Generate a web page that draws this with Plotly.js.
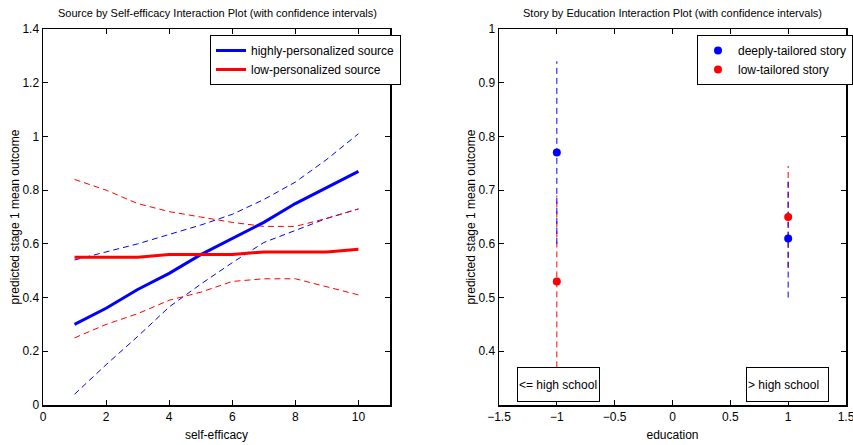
<!DOCTYPE html>
<html>
<head>
<meta charset="utf-8">
<script src="https://cdn.plot.ly/plotly-3.0.1.min.js"></script>
<style>html,body{margin:0;padding:0;background:#fff;}#chart{width:853px;height:445px;}</style>
</head>
<body>
<div id="chart"></div>
<script>
// ---- Left panel data: Source by Self-efficacy ----
const selfEfficacy = [1, 2, 3, 4, 5, 6, 7, 8, 9, 10];
const highMean  = [0.30, 0.36, 0.43, 0.49, 0.56, 0.62, 0.68, 0.75, 0.81, 0.87];
const highUpper = [0.54, 0.57, 0.60, 0.635, 0.67, 0.71, 0.765, 0.83, 0.915, 1.01];
const highLower = [0.04, 0.15, 0.255, 0.365, 0.45, 0.53, 0.605, 0.65, 0.695, 0.73];
const lowMean   = [0.55, 0.55, 0.55, 0.56, 0.56, 0.56, 0.57, 0.57, 0.57, 0.58];
const lowUpper  = [0.84, 0.80, 0.75, 0.72, 0.70, 0.68, 0.665, 0.665, 0.695, 0.73];
const lowLower  = [0.25, 0.30, 0.34, 0.39, 0.42, 0.46, 0.47, 0.47, 0.44, 0.41];

// ---- Right panel data: Story by Education ----
const education = [-1, 1];
const deepMean = [0.77, 0.61];
const deepLo   = [0.60, 0.50];
const deepHi   = [0.94, 0.72];
const lowStoryMean = [0.53, 0.65];
const lowStoryLo   = [0.37, 0.555];
const lowStoryHi   = [0.69, 0.745];

const leftXTicks = [0, 2, 4, 6, 8, 10];
const leftYTicks = [0, 0.2, 0.4, 0.6, 0.8, 1, 1.2, 1.4];
const rightXTicks = [-1.5, -1, -0.5, 0, 0.5, 1, 1.5];
const rightYTicks = [0.4, 0.5, 0.6, 0.7, 0.8, 0.9, 1];

const BLUE = '#0000ff', RED = '#ff0000';
const FONT = 'Liberation Sans, Arial, Helvetica, sans-serif';
const DASH = '6px,4px';

const traces = [];
// left CI dashed lines
traces.push({x: selfEfficacy, y: highUpper, mode: 'lines', line: {color: BLUE, width: 1, dash: DASH}, showlegend: false, xaxis: 'x', yaxis: 'y'});
traces.push({x: selfEfficacy, y: highLower, mode: 'lines', line: {color: BLUE, width: 1, dash: DASH}, showlegend: false, xaxis: 'x', yaxis: 'y'});
traces.push({x: selfEfficacy, y: lowUpper, mode: 'lines', line: {color: RED, width: 1, dash: DASH}, showlegend: false, xaxis: 'x', yaxis: 'y'});
traces.push({x: selfEfficacy, y: lowLower, mode: 'lines', line: {color: RED, width: 1, dash: DASH}, showlegend: false, xaxis: 'x', yaxis: 'y'});
traces.push({x: selfEfficacy, y: highMean, mode: 'lines', name: 'highly-personalized source', line: {color: BLUE, width: 3}, xaxis: 'x', yaxis: 'y', legend: 'legend'});
traces.push({x: selfEfficacy, y: lowMean, mode: 'lines', name: 'low-personalized source', line: {color: RED, width: 3}, xaxis: 'x', yaxis: 'y', legend: 'legend'});

// right CI vertical dashed lines
for (let i = 0; i < education.length; i++) {
  traces.push({x: [education[i], education[i]], y: [lowStoryLo[i], lowStoryHi[i]], mode: 'lines', line: {color: RED, width: 1, dash: DASH}, showlegend: false, xaxis: 'x2', yaxis: 'y2'});
  traces.push({x: [education[i], education[i]], y: [deepLo[i], deepHi[i]], mode: 'lines', line: {color: BLUE, width: 1, dash: DASH}, showlegend: false, xaxis: 'x2', yaxis: 'y2'});
}
traces.push({x: education, y: deepMean, mode: 'markers', name: 'deeply-tailored story', marker: {color: BLUE, size: 8}, xaxis: 'x2', yaxis: 'y2', legend: 'legend2'});
traces.push({x: education, y: lowStoryMean, mode: 'markers', name: 'low-tailored story', marker: {color: RED, size: 8}, xaxis: 'x2', yaxis: 'y2', legend: 'legend2'});

const axisCommon = {
  showline: true, mirror: 'ticks', linecolor: '#000', linewidth: 1.5,
  ticks: 'inside', ticklen: 5, tickcolor: '#000', tickwidth: 1,
  showgrid: false, zeroline: false, tickfont: {family: FONT, size: 12, color: '#000'},
  tickmode: 'array', ticklabeloverflow: 'allow'
};
const legendCommon = {bordercolor: '#000', borderwidth: 1, bgcolor: '#fff', font: {family: FONT, size: 12, color: '#000'}, xanchor: 'left', yanchor: 'top', tracegroupgap: 0, itemwidth: 30};

const layout = {
  width: 853, height: 445,
  margin: {l: 0, r: 0, t: 0, b: 0},
  paper_bgcolor: '#fff', plot_bgcolor: '#fff',
  font: {family: FONT, size: 12, color: '#000'},
  xaxis: Object.assign({}, axisCommon, {domain: [43/853, 390/853], range: [0, 11], tickvals: leftXTicks,
    title: {text: 'self-efficacy', font: {family: FONT, size: 12}, standoff: 7}}),
  yaxis: Object.assign({}, axisCommon, {domain: [1-405/445, 1-29/445], range: [0, 1.4], tickvals: leftYTicks,
    title: {text: 'predicted stage 1 mean outcome', font: {family: FONT, size: 12}, standoff: 0}}),
  xaxis2: Object.assign({}, axisCommon, {anchor: 'y2', domain: [499/853, 846/853], range: [-1.5, 1.5], tickvals: rightXTicks,
    title: {text: 'education', font: {family: FONT, size: 12}, standoff: 7}}),
  yaxis2: Object.assign({}, axisCommon, {anchor: 'x2', domain: [1-405/445, 1-29/445], range: [0.3, 1], tickvals: rightYTicks,
    title: {text: 'predicted stage 1 mean outcome', font: {family: FONT, size: 12}, standoff: 0}}),
  legend: Object.assign({}, legendCommon, {x: 210/853, y: 1-35/445}),
  legend2: Object.assign({}, legendCommon, {x: 697/853, y: 1-35/445}),
  annotations: [
    {xref: 'paper', yref: 'paper', x: 217/853, y: 1-13/445, text: 'Source by Self-efficacy Interaction Plot (with confidence intervals)', showarrow: false, font: {family: FONT, size: 11}, xanchor: 'center', yanchor: 'middle'},
    {xref: 'paper', yref: 'paper', x: 672/853, y: 1-13/445, text: 'Story by Education Interaction Plot (with confidence intervals)', showarrow: false, font: {family: FONT, size: 11}, xanchor: 'center', yanchor: 'middle'},
    {xref: 'x2', yref: 'y2', x: -0.985, y: 0.339, text: '&lt;= high school', showarrow: false, font: {family: FONT, size: 12}, bordercolor: '#000', borderwidth: 1, borderpad: 1, width: 79, height: 31, align: 'left', bgcolor: '#fff'},
    {xref: 'x2', yref: 'y2', x: 0.994, y: 0.339, text: '&gt; high school', showarrow: false, font: {family: FONT, size: 12}, bordercolor: '#000', borderwidth: 1, borderpad: 1, width: 79, height: 31, align: 'left', bgcolor: '#fff'}
  ]
};

Plotly.newPlot('chart', traces, layout, {displayModeBar: false, staticPlot: true});
</script>
</body>
</html>
